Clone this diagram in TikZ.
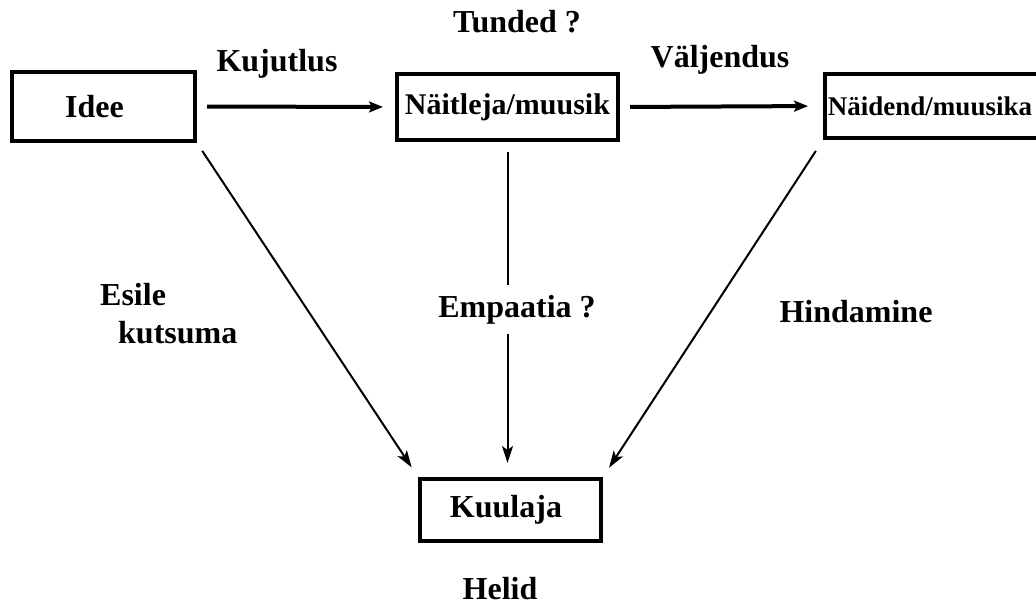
\documentclass[tikz,border=0pt]{standalone}
\usepackage{fontspec}
\setmainfont{Liberation Serif}
\usetikzlibrary{arrows.meta}
\begin{document}
\begin{tikzpicture}[x=1pt,y=-1pt,
  box/.style={draw, line width=4pt, inner sep=0pt, font=\fontsize{32}{38}\selectfont\bfseries},
  lbl/.style={inner sep=0pt, font=\fontsize{32}{38}\selectfont\bfseries},
  bigarrow/.style={line width=4pt, -{Stealth[length=14pt,width=11pt,inset=3pt]}},
  smallarrow/.style={line width=2pt, -{Stealth[length=17pt,width=11pt,inset=4pt]}}]
\useasboundingbox (0,0) rectangle (1036,607);
\clip (0,0) rectangle (1036,607);
% boxes
\node[box, minimum width=183pt, minimum height=69pt] (idee) at (103.5,106.5) {Idee\hspace*{18pt}};
\node[box, minimum width=221pt, minimum height=66pt, font=\fontsize{30}{36}\selectfont\bfseries] (naitleja) at (507.5,107) {Näitleja/muusik};
\node[box, minimum width=220pt, minimum height=64pt, font=\fontsize{27}{32}\selectfont\bfseries] (naidend) at (935,106) {Näidend/muusika\hspace*{10pt}};
\node[box, minimum width=181pt, minimum height=62pt] (kuulaja) at (510.5,510) {Kuulaja\hspace*{9pt}};
% connectors
\draw[bigarrow, shorten <=10pt, shorten >=12pt] (idee.east) -- (naitleja.west);
\draw[bigarrow, shorten <=10pt, shorten >=15pt] (naitleja.east) -- (naidend.west);
\draw[smallarrow, shorten <=9.5pt, shorten >=11.5pt] (idee.south east) -- (kuulaja.north west);
\draw[smallarrow, shorten <=10pt, shorten >=14pt] (naitleja.south) -- (naitleja.south |- kuulaja.north);
\draw[smallarrow, shorten <=13pt, shorten >=11pt] (naidend.south west) -- (kuulaja.north east);
% labels
\node[lbl, anchor=base] (tunded) at (517,33) {Tunded ?};
\node[lbl, anchor=base] (kujutlus) at (277,72) {Kujutlus};
\node[lbl, anchor=base] (valjendus) at (720,68) {Väljendus};
\node[lbl, anchor=base west] (esile) at (100,305) {Esile};
\node[lbl, anchor=base west] (kutsuma) at (118,343) {kutsuma};
\node[lbl, anchor=base, fill=white, inner ysep=10pt, inner xsep=6pt] (empaatia) at (517,317) {Empaatia ?};
\node[lbl, anchor=base] (hindamine) at (856,322) {Hindamine};
\node[lbl, anchor=base] (helid) at (500,599) {Helid};
\end{tikzpicture}
\end{document}
